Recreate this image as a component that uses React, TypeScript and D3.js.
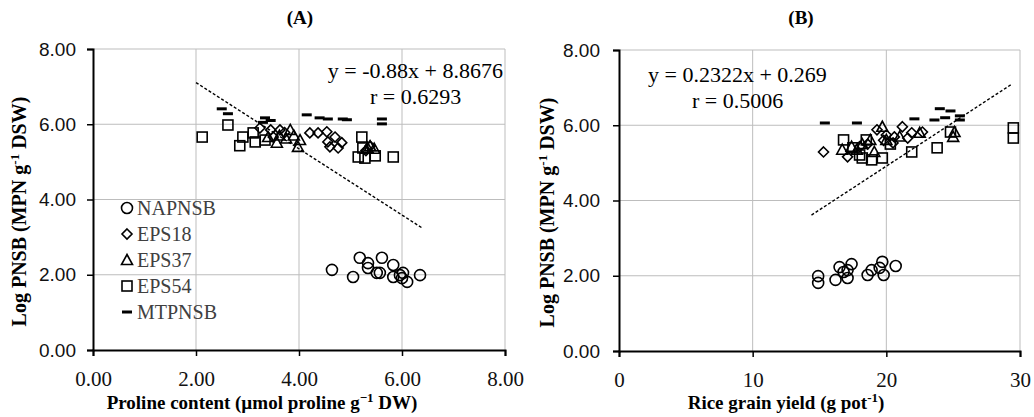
import React, { useRef, useEffect } from 'react';
import * as d3 from 'd3';

type Pt = [number, number];

// Panel A: proline content vs log PNSB
const napnsbA: Pt[] = [[4.64, 2.13], [5.05, 1.94], [5.18, 2.45], [5.34, 2.31], [5.34, 2.18], [5.51, 2.05], [5.57, 2.05], [5.61, 2.45], [5.83, 2.26], [5.83, 1.94], [5.96, 1.99], [6.02, 2.05], [6.1, 1.81], [6.35, 1.99], [6.0, 1.91]];
const eps18A: Pt[] = [[3.24, 5.9], [3.45, 5.85], [3.5, 5.66], [3.63, 5.85], [3.72, 5.78], [4.21, 5.77], [4.37, 5.77], [4.54, 5.8], [4.56, 5.53], [4.7, 5.66], [4.6, 5.4], [4.76, 5.37], [4.83, 5.51], [5.3, 5.3], [5.38, 5.42]];
const eps37A: Pt[] = [[3.4, 5.66], [3.57, 5.51], [3.62, 5.7], [3.75, 5.62], [3.83, 5.85], [3.9, 5.7], [3.98, 5.4], [4.02, 5.58], [5.33, 5.38], [5.38, 5.42], [5.46, 5.35]];
const eps54A: Pt[] = [[2.12, 5.66], [2.62, 5.98], [2.91, 5.66], [2.85, 5.43], [3.11, 5.77], [3.15, 5.53], [3.34, 5.58], [5.22, 5.66], [5.15, 5.13], [5.28, 5.1], [5.48, 5.16], [5.83, 5.13], [5.24, 5.37]];
const mtpnsbA: Pt[] = [[2.5, 6.41], [2.62, 6.28], [3.34, 6.17], [3.3, 6.05], [3.45, 6.1], [4.15, 6.25], [4.4, 6.17], [4.56, 6.14], [4.85, 6.14], [4.93, 6.12], [5.61, 6.14], [5.61, 6.01]];

// Panel B: rice grain yield vs log PNSB
const napnsbB: Pt[] = [[14.9, 1.99], [14.9, 1.81], [16.2, 1.89], [16.5, 2.23], [16.8, 2.1], [17.1, 1.94], [17.1, 2.15], [17.4, 2.31], [18.6, 2.02], [18.9, 2.15], [19.5, 2.21], [19.7, 2.37], [19.8, 2.02], [20.7, 2.26]];
const eps18B: Pt[] = [[15.3, 5.29], [17.1, 5.16], [18.0, 5.43], [18.6, 5.5], [19.3, 5.88], [19.8, 5.6], [20.0, 5.74], [20.5, 5.53], [20.6, 5.69], [21.2, 5.96], [21.6, 5.66], [21.9, 5.8], [22.7, 5.82]];
const eps37B: Pt[] = [[16.7, 5.35], [17.4, 5.43], [17.8, 5.35], [18.2, 5.5], [18.8, 5.61], [19.1, 5.29], [19.7, 5.96], [20.0, 5.61], [21.0, 5.7], [22.5, 5.8], [25.0, 5.69], [25.1, 5.82]];
const eps54B: Pt[] = [[16.8, 5.61], [17.5, 5.4], [18.0, 5.21], [18.2, 5.13], [18.5, 5.61], [18.9, 5.08], [19.7, 5.13], [20.3, 5.5], [21.9, 5.29], [23.8, 5.4], [24.8, 5.82], [29.5, 5.93], [29.5, 5.66]];
const mtpnsbB: Pt[] = [[15.4, 6.06], [17.8, 6.06], [22.1, 6.17], [23.6, 6.14], [24.0, 6.44], [24.4, 6.2], [24.8, 6.38], [25.5, 6.25], [25.5, 6.14]];

const seriesNames = ['NAPNSB', 'EPS18', 'EPS37', 'EPS54', 'MTPNSB'];
const markerKinds = ['circle', 'diamond', 'triangle', 'square', 'dash'];

const yTicks = [0, 2, 4, 6, 8];
const xTicksA = [0, 2, 4, 6, 8];
const xTicksB = [0, 10, 20, 30];

const trendA = { slope: -0.88, intercept: 8.8676, from: 2.0, to: 6.4 };
const trendB = { slope: 0.2322, intercept: 0.269, from: 14.4, to: 29.4 };

const SERIF = '"Liberation Serif", "Times New Roman", serif';
const SANS = '"Liberation Sans", Arial, sans-serif';

const drawMarker = (g, kind, px, py) => {
  const s = 5.5;
  if (kind === 'circle') {
    g.append('circle').attr('cx', px).attr('cy', py).attr('r', s)
      .attr('fill', 'none').attr('stroke', '#000').attr('stroke-width', 1.6);
  } else if (kind === 'diamond') {
    g.append('path').attr('d', `M${px},${py - 5}L${px + 5},${py}L${px},${py + 5}L${px - 5},${py}Z`)
      .attr('fill', 'none').attr('stroke', '#000').attr('stroke-width', 1.6);
  } else if (kind === 'triangle') {
    g.append('path').attr('d', `M${px},${py - 5.5}L${px + 5.5},${py + 4.5}L${px - 5.5},${py + 4.5}Z`)
      .attr('fill', 'none').attr('stroke', '#000').attr('stroke-width', 1.6);
  } else if (kind === 'square') {
    g.append('rect').attr('x', px - 5).attr('y', py - 5).attr('width', 10).attr('height', 10)
      .attr('fill', 'none').attr('stroke', '#000').attr('stroke-width', 1.6);
  } else {
    g.append('rect').attr('x', px - 5).attr('y', py - 1.5).attr('width', 10).attr('height', 3)
      .attr('fill', '#000');
  }
};

const drawPanel = (svg, p) => {
  const x = d3.scaleLinear().domain(p.xDomain).range([p.left, p.right]);
  const y = d3.scaleLinear().domain([0, 8]).range([p.bottom, p.top]);
  const g = svg.append('g');

  // gridlines
  g.selectAll('.gx').data(p.xTicks.slice(1)).enter().append('line')
    .attr('x1', d => x(d)).attr('x2', d => x(d)).attr('y1', p.top).attr('y2', p.bottom)
    .attr('stroke', '#bdbdbd').attr('stroke-width', 1);
  g.selectAll('.gy').data(yTicks.slice(1)).enter().append('line')
    .attr('x1', p.left).attr('x2', p.right).attr('y1', d => y(d)).attr('y2', d => y(d))
    .attr('stroke', '#bdbdbd').attr('stroke-width', 1);

  // axes
  const ya = g.append('g').attr('transform', `translate(${p.left},0)`)
    .call(d3.axisLeft(y).tickValues(yTicks).tickSize(6).tickFormat(d3.format('.2f')));
  ya.select('.domain').attr('stroke-width', 2);
  ya.selectAll('line').attr('stroke-width', 1.5);
  ya.selectAll('text').attr('font-family', SANS).attr('font-size', 19).attr('fill', '#111')
    .attr('x', -p.yLabelGap);

  const xa = g.append('g').attr('transform', `translate(0,${p.bottom})`)
    .call(d3.axisBottom(x).tickValues(p.xTicks).tickSize(6).tickFormat(d3.format(p.xFormat)));
  xa.select('.domain').attr('stroke-width', 2);
  xa.selectAll('line').attr('stroke-width', 1.5);
  xa.selectAll('text').attr('font-family', SERIF).attr('font-size', 21).attr('fill', '#111')
    .attr('y', 21);

  // trend line
  const t = p.trend;
  g.append('line')
    .attr('x1', x(t.from)).attr('y1', y(t.slope * t.from + t.intercept))
    .attr('x2', x(t.to)).attr('y2', y(t.slope * t.to + t.intercept))
    .attr('stroke', '#000').attr('stroke-width', 1.4).attr('stroke-dasharray', '3,2');

  // points
  p.series.forEach((pts, i) => {
    const sg = g.append('g');
    pts.forEach(d => drawMarker(sg, markerKinds[i], x(d[0]), y(d[1])));
  });

  // equation
  g.append('text').attr('x', p.eq.x1).attr('y', p.eq.y1).attr('text-anchor', p.eq.anchor1)
    .attr('font-family', SERIF).attr('font-size', 22).text(p.eq.line1);
  g.append('text').attr('x', p.eq.x2).attr('y', p.eq.y2)
    .attr('font-family', SERIF).attr('font-size', 22).text(p.eq.line2);

  // panel title
  g.append('text').attr('x', p.titleX).attr('y', 24).attr('text-anchor', 'middle')
    .attr('font-family', SERIF).attr('font-weight', 'bold').attr('font-size', 19).text(p.title);

  // x axis title
  const xt = g.append('text').attr('x', p.xTitleX).attr('y', 409).attr('text-anchor', 'middle')
    .attr('font-family', SERIF).attr('font-weight', 'bold').attr('font-size', 19);
  xt.append('tspan').text(p.xTitle[0]);
  xt.append('tspan').attr('dy', -7).attr('font-size', 13).text(p.xTitle[1]);
  xt.append('tspan').attr('dy', 7).text(p.xTitle[2]);

  // y axis title
  const yt = g.append('text')
    .attr('transform', `translate(${p.yTitleX},${(p.top + p.bottom) / 2 + 12}) rotate(-90)`)
    .attr('text-anchor', 'middle')
    .attr('font-family', SERIF).attr('font-weight', 'bold').attr('font-size', 20);
  yt.append('tspan').text('Log PNSB (MPN g');
  yt.append('tspan').attr('dy', -7).attr('font-size', 13).text('-1');
  yt.append('tspan').attr('dy', 7).text(' DSW)');

  return { x, y };
};

const App = () => {
  const ref = useRef(null);

  useEffect(() => {
    document.body.style.margin = '0';
    const svg = d3.select(ref.current);
    svg.selectAll('*').remove();

    drawPanel(svg, {
      left: 93, right: 505, top: 49, bottom: 350,
      xDomain: [0, 8], xTicks: xTicksA, xFormat: '.2f', yLabelGap: 17,
      trend: trendA,
      series: [napnsbA, eps18A, eps37A, eps54A, mtpnsbA],
      eq: { x1: 503, y1: 78, anchor1: 'end', line1: 'y = -0.88x + 8.8676', x2: 370, y2: 104, line2: 'r = 0.6293' },
      title: '(A)', titleX: 300,
      xTitle: ['Proline content (\u00b5mol proline g', '\u22121', ' DW)'], xTitleX: 262,
      yTitleX: 26,
    });

    drawPanel(svg, {
      left: 619, right: 1020, top: 50, bottom: 351,
      xDomain: [0, 30], xTicks: xTicksB, xFormat: 'd', yLabelGap: 19,
      trend: trendB,
      series: [napnsbB, eps18B, eps37B, eps54B, mtpnsbB],
      eq: { x1: 648, y1: 82, anchor1: 'start', line1: 'y = 0.2322x + 0.269', x2: 692, y2: 108, line2: 'r = 0.5006' },
      title: '(B)', titleX: 801,
      xTitle: ['Rice grain yield (g pot', '-1', ')'], xTitleX: 786,
      yTitleX: 554,
    });

    // legend (panel A)
    const lg = svg.append('g');
    seriesNames.forEach((name, i) => {
      const cy = 208 + i * 26;
      drawMarker(lg, markerKinds[i], 127, cy);
      lg.append('text').attr('x', 137).attr('y', cy + 7)
        .attr('font-family', SERIF).attr('font-size', 20).attr('fill', '#404040').text(name);
    });
  }, []);

  return <svg ref={ref} width={1034} height={417} style={{ display: 'block', background: '#fff' }}></svg>;
};

export default App;
